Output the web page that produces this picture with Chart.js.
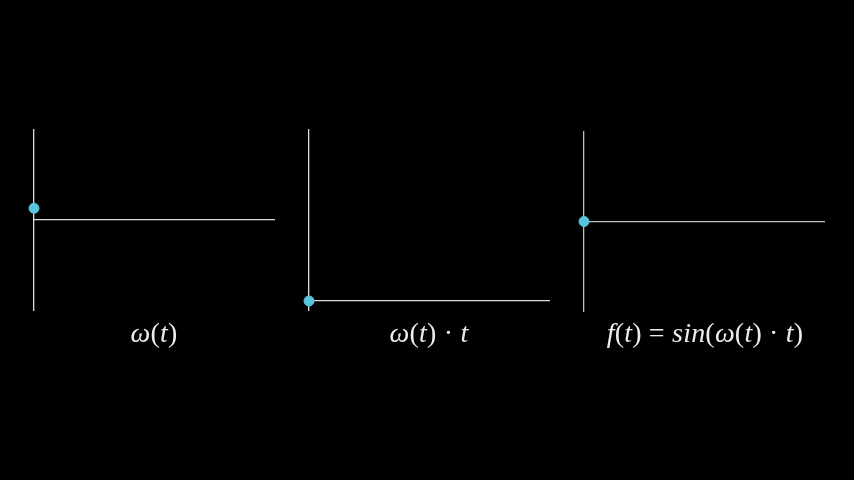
<!DOCTYPE html>
<html>
<head>
<meta charset="utf-8">
<script src="https://cdn.jsdelivr.net/npm/chart.js@4"></script>
<style>
	html, body { margin: 0; padding: 0; background: #000; }
	#stage { position: relative; width: 854px; height: 480px; background: #000; overflow: hidden; }
	.box { position: absolute; }
	.lbl { position: absolute; color: #ececec; font-family: "Liberation Serif", serif; font-size: 28px; letter-spacing: 0.2px; white-space: nowrap; transform: translateX(-50%); }
	.lbl i { font-style: italic; }
</style>
</head>
<body>
<div id="stage">
	<div class="box" style="left:26px; top:122px; width:256px; height:196px;"><canvas id="omegaChart"></canvas></div>
	<div class="box" style="left:301px; top:122px; width:256px; height:196px;"><canvas id="phaseChart"></canvas></div>
	<div class="box" style="left:576px; top:124px; width:256px; height:195px;"><canvas id="sineChart"></canvas></div>
	<div class="lbl" style="left:154px; top:317px;"><i>ω</i>(<i>t</i>)</div>
	<div class="lbl" style="left:429px; top:317px;"><i>ω</i>(<i>t</i>) · <i>t</i></div>
	<div class="lbl" style="left:705px; top:317px;"><i>f</i>(<i>t</i>) = <i>sin</i>(<i>ω</i>(<i>t</i>) · <i>t</i>)</div>
</div>
<script>
// one dot per plot, at t = 0
let omegaX = [0];
let omegaY = [0.13];
let phaseX = [0];
let phaseY = [0];
let sineX = [0];
let sineY = [0];

// axis ranges
let tRange = [0, 10];
let omegaRange = [-1, 1];
let phaseRange = [-0.5, 9.5];
let sineRange = [-1, 1];

function points(xs, ys) {
	return xs.map((x, i) => ({ x: x, y: ys[i] }));
}

function makePlot(id, xs, ys, yRange, axisColor) {
	let ctx = document.getElementById(id).getContext('2d');
	return new Chart(ctx, {
		type: 'scatter',
		data: {
			datasets: [{
				data: points(xs, ys),
				backgroundColor: '#58c4dd',
				borderColor: '#58c4dd',
				pointRadius: 5,
				pointHoverRadius: 5,
				clip: false
			}]
		},
		options: {
			responsive: false,
			animation: false,
			events: [],
			layout: { padding: 8 },
			plugins: { legend: { display: false }, tooltip: { enabled: false } },
			scales: {
				x: {
					type: 'linear',
					min: tRange[0],
					max: tRange[1],
					position: { y: 0 },
					grid: { display: false },
					border: { display: true, color: axisColor, width: 1.3 },
					ticks: { display: false }
				},
				y: {
					type: 'linear',
					min: yRange[0],
					max: yRange[1],
					position: { x: 0 },
					grid: { display: false },
					border: { display: true, color: axisColor, width: 1.3 },
					ticks: { display: false }
				}
			}
		}
	});
}

document.getElementById('omegaChart').width = 256;
document.getElementById('omegaChart').height = 196;
document.getElementById('phaseChart').width = 256;
document.getElementById('phaseChart').height = 196;
document.getElementById('sineChart').width = 256;
document.getElementById('sineChart').height = 195;

let omegaChart = makePlot('omegaChart', omegaX, omegaY, omegaRange, '#dcdcdc');
let phaseChart = makePlot('phaseChart', phaseX, phaseY, phaseRange, '#dcdcdc');
let sineChart = makePlot('sineChart', sineX, sineY, sineRange, '#bdbdbd');
</script>
</body>
</html>
